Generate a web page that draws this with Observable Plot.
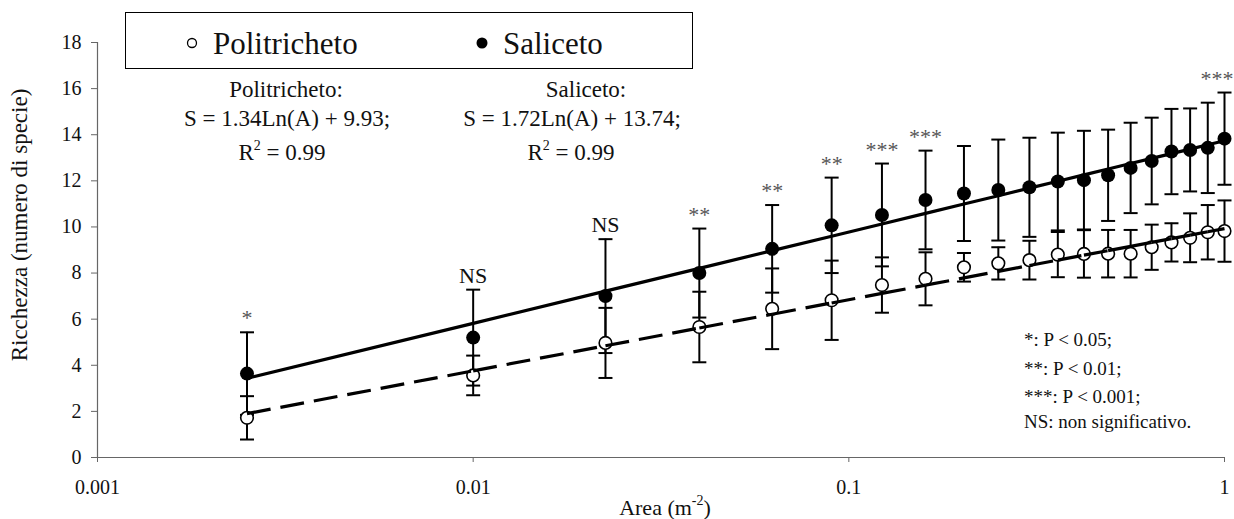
<!DOCTYPE html>
<html><head><meta charset="utf-8">
<script src="https://cdn.jsdelivr.net/npm/d3@7"></script>
<script src="https://cdn.jsdelivr.net/npm/@observablehq/plot@0.6"></script>
<style>
body{margin:0;background:#fff;}
#chart{position:relative;width:1234px;height:519px;}
#chart text{font-family:'Liberation Serif','Times New Roman',serif;}
</style>
</head><body><div id="chart"></div>
<script>
// ---- data ----
const area = [0.0025, 0.01, 0.0225, 0.04, 0.0625, 0.09, 0.1225, 0.16, 0.2025, 0.25, 0.3025, 0.36, 0.4225, 0.49, 0.5625, 0.64, 0.7225, 0.81, 0.9025, 1];
const salMean = [3.64, 5.2, 7.0, 8.0, 9.05, 10.07, 10.52, 11.17, 11.45, 11.6, 11.72, 11.97, 12.03, 12.24, 12.56, 12.86, 13.27, 13.34, 13.43, 13.83];
const salErr  = [1.79, 2.08, 2.47, 1.93, 1.9, 2.07, 2.23, 2.14, 2.06, 2.19, 2.15, 2.12, 2.14, 1.98, 1.96, 1.88, 1.85, 1.8, 1.96, 2.0];
const polMean = [1.72, 3.56, 4.97, 5.66, 6.45, 6.82, 7.48, 7.75, 8.25, 8.42, 8.56, 8.8, 8.83, 8.84, 8.84, 9.12, 9.33, 9.53, 9.77, 9.82];
const polErr  = [0.94, 0.86, 1.52, 1.53, 1.75, 1.72, 1.2, 1.15, 0.62, 0.7, 0.84, 0.98, 1.03, 1.03, 1.03, 0.98, 0.83, 1.06, 1.18, 1.33];
const sigLabels = ["*", "NS", "NS", "**", "**", "**", "***", "***", "", "", "", "", "", "", "", "", "", "", "", "***"];
const xTicks = [0.001, 0.01, 0.1, 1];
const yTicks = [0, 2, 4, 6, 8, 10, 12, 14, 16, 18];
const polFit = {a: 1.34, b: 9.93};
const salFit = {a: 1.72, b: 13.74};
const seriesNames = ["Politricheto", "Saliceto"];
const sigLegend = ["*: P < 0.05;", "**: P < 0.01;", "***: P < 0.001;", "NS: non significativo."];

// ---- derived tables ----
const sal = area.map((x, i) => ({x, y: salMean[i], lo: salMean[i] - salErr[i], hi: salMean[i] + salErr[i], sig: sigLabels[i]}));
const pol = area.map((x, i) => ({x, y: polMean[i], lo: polMean[i] - polErr[i], hi: polMean[i] + polErr[i]}));
const fit = (f, x) => f.a * Math.log(x) + f.b;
const segs = f => area.slice(1).map((x2, i) => ({x1: area[i], x2, y1: fit(f, area[i]), y2: fit(f, x2)}));
const xMax = area[area.length - 1];

const cap = {draw(ctx) { ctx.moveTo(-7, 0); ctx.lineTo(7, 0); }};
const FONT = "'Liberation Serif', 'Times New Roman', serif";
const sigColor = d => d.sig === "NS" ? "#111" : "#555";

const bars = (data) => [
  Plot.ruleX(data, {x: "x", y1: "lo", y2: "hi", stroke: "black", strokeWidth: 2}),
  Plot.dot(data, {x: "x", y: "hi", symbol: cap, fill: "none", stroke: "black", strokeWidth: 2}),
  Plot.dot(data, {x: "x", y: "lo", symbol: cap, fill: "none", stroke: "black", strokeWidth: 2})
];

const chart = Plot.plot({
  width: 1234, height: 519,
  marginLeft: 97, marginRight: 10, marginTop: 42, marginBottom: 62,
  style: {fontFamily: FONT, background: "white", color: "#111"},
  x: {type: "log", domain: [0.001, 1]},
  y: {domain: [0, 18]},
  marks: [
    Plot.ruleY([0], {stroke: "#666", strokeWidth: 1.2}),
    Plot.ruleX([0.001], {stroke: "#666", strokeWidth: 1.2}),
    Plot.axisX({ticks: xTicks, tickFormat: d => String(d), tickSize: 5, tickPadding: 17, fontSize: 20, label: null, stroke: "#666"}),
    Plot.axisY({ticks: yTicks, tickSize: 6, tickPadding: 10, fontSize: 20, label: null, stroke: "#666"}),
    ...bars(sal),
    ...bars(pol),
    Plot.dot(sal, {x: "x", y: "y", r: 7, fill: "black", stroke: "none"}),
    Plot.dot(pol, {x: "x", y: "y", r: 6.3, fill: "white", stroke: "black", strokeWidth: 1.6}),
    Plot.link(segs(salFit), {x1: "x1", y1: "y1", x2: "x2", y2: "y2", stroke: "black", strokeWidth: 3.2}),
    Plot.link(segs(polFit), {x1: "x1", y1: "y1", x2: "x2", y2: "y2", stroke: "black", strokeWidth: 3.2, strokeDasharray: "24,10"}),
    Plot.text(sal.filter(d => d.sig && d.x < xMax), {x: "x", y: "hi", text: "sig", dy: -14, fontSize: 22, fill: sigColor, fontFamily: FONT}),
    Plot.text(sal.filter(d => d.sig && d.x === xMax), {x: "x", y: "hi", text: "sig", dy: -14, dx: 9, textAnchor: "end", fontSize: 22, fill: sigColor, fontFamily: FONT})
  ]
});
document.getElementById("chart").appendChild(chart);

// ---- annotations (non-data) ----
const svg = d3.select(chart);
const g = svg.append("g").style("font-family", FONT).attr("fill", "#111").attr("text-anchor", "start");

// legend box
g.append("rect").attr("x", 125.5).attr("y", 12.5).attr("width", 567).attr("height", 56)
  .attr("fill", "white").attr("stroke", "black").attr("stroke-width", 1);
g.append("circle").attr("cx", 192).attr("cy", 43).attr("r", 4.5).attr("fill", "white").attr("stroke", "black").attr("stroke-width", 1.3);
g.append("text").attr("x", 213).attr("y", 54).attr("font-size", 31).text(seriesNames[0]);
g.append("circle").attr("cx", 482).attr("cy", 43).attr("r", 5.5).attr("fill", "black");
g.append("text").attr("x", 503).attr("y", 54).attr("font-size", 31).text(seriesNames[1]);

// equations
function eq(cx, cx2, cx3, name, f) {
  g.append("text").attr("x", cx).attr("y", 97).attr("font-size", 23).attr("text-anchor", "middle").text(name + ":");
  g.append("text").attr("x", cx2).attr("y", 126).attr("font-size", 23).attr("text-anchor", "middle")
    .text(`S = ${f.a.toFixed(2)}Ln(A) + ${f.b.toFixed(2)};`);
  const t = g.append("text").attr("x", cx3).attr("y", 160).attr("font-size", 23).attr("text-anchor", "middle");
  t.append("tspan").text("R");
  t.append("tspan").attr("font-size", 14).attr("dy", -10).text("2");
  t.append("tspan").attr("dy", 10).text(" = 0.99");
}
eq(286, 287, 282, seriesNames[0], polFit);
eq(586, 572, 571, seriesNames[1], salFit);

// significance legend
sigLegend.forEach((s, i) => {
  g.append("text").attr("x", 1024).attr("y", [346, 375, 403, 428][i]).attr("font-size", 19).text(s);
});

// axis titles
const xt = g.append("text").attr("x", 665).attr("y", 515).attr("font-size", 22).attr("text-anchor", "middle");
xt.append("tspan").text("Area (m");
xt.append("tspan").attr("font-size", 14).attr("dy", -10).text("-2");
xt.append("tspan").attr("dy", 10).text(")");
g.append("text").attr("transform", "translate(27,225) rotate(-90)").attr("font-size", 23)
  .attr("text-anchor", "middle").text("Ricchezza (numero di specie)");
</script>
</body></html>
